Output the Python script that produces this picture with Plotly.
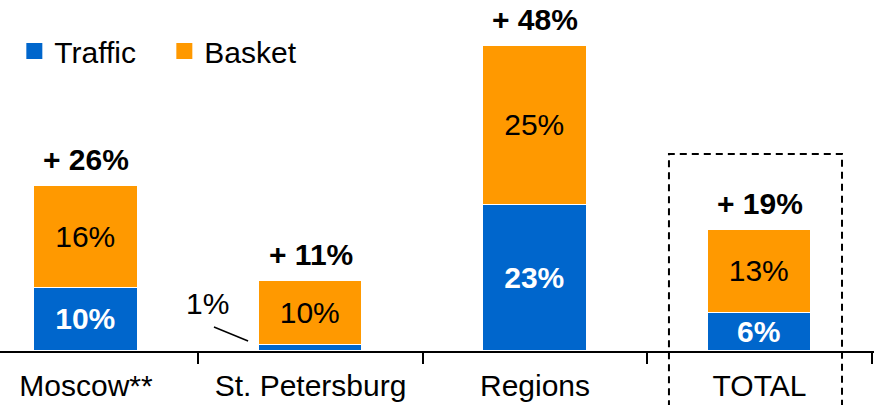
import plotly.graph_objects as go

# Growth decomposition by region (percentage points)
categories = ["Moscow**", "St. Petersburg", "Regions", "TOTAL"]
traffic = [10, 1, 23, 6]
basket = [16, 10, 25, 13]
totals = [26, 11, 48, 19]

BLUE = "#0066CC"
ORANGE = "#FF9900"
FONT = "Liberation Sans, Arial, sans-serif"
FS = 30

x = list(range(len(categories)))

# segment labels; the thin St. Petersburg traffic slice gets an outside callout
traffic_txt = [f"{v}%" if v >= 3 else "" for v in traffic]
basket_txt = [f"{v}%" for v in basket]

fig = go.Figure()
fig.add_trace(go.Bar(
    x=x, y=traffic, name="Traffic", legendgroup="traffic", showlegend=False,
    marker=dict(color=BLUE, line=dict(color="white", width=1.5)),
    width=0.46, text=traffic_txt, textposition="inside", insidetextanchor="middle",
    textfont=dict(family=FONT, size=FS, color="white", weight="bold"),
    hoverinfo="skip",
))
fig.add_trace(go.Bar(
    x=x, y=basket, name="Basket", legendgroup="basket", showlegend=False,
    marker=dict(color=ORANGE, line=dict(color="white", width=1.5)),
    width=0.46, text=basket_txt, textposition="inside", insidetextanchor="middle",
    textfont=dict(family=FONT, size=FS, color="black"),
    hoverinfo="skip",
))

# legend entries with larger square swatches
for name, color, grp in [("Traffic", BLUE, "traffic"), ("Basket", ORANGE, "basket")]:
    fig.add_trace(go.Scatter(
        x=[None], y=[None], mode="markers", name=name, legendgroup=grp,
        marker=dict(symbol="square", size=16, color=color), hoverinfo="skip",
    ))

# total growth above each stack
for i, t in enumerate(totals):
    fig.add_annotation(
        x=i, y=t, text=f"<b>+ {t}%</b>", showarrow=False, yanchor="bottom", yshift=8,
        font=dict(family=FONT, size=FS, color="black"),
    )

# callout for the small St. Petersburg traffic share
sp = categories.index("St. Petersburg")
fig.add_annotation(
    x=sp - 0.461, y=7.56, text=f"{traffic[sp]}%", showarrow=False,
    font=dict(family=FONT, size=FS, color="black"),
)
fig.add_shape(type="line", xref="x", yref="y", x0=sp - 0.43, y0=3.78, x1=sp - 0.278, y1=1.57,
              line=dict(color="black", width=1.5))

# dashed frame highlighting the total column
fig.add_shape(
    type="path", xref="paper", yref="paper",
    path="M 0.7654,-0.16 L 0.7654,0.5613 L 0.9634,0.5613 L 0.9634,-0.16",
    line=dict(color="black", width=2, dash="7px,5px"),
)

fig.update_layout(
    barmode="stack",
    width=874, height=405,
    margin=dict(l=0, r=0, t=0, b=54),
    paper_bgcolor="white", plot_bgcolor="white",
    bargap=0,
    uniformtext=dict(minsize=FS, mode="show"),
    font=dict(family=FONT, size=FS, color="black"),
    legend=dict(
        orientation="h", x=0.0164, y=0.855, xanchor="left", yanchor="middle",
        font=dict(family=FONT, size=FS, color="black"),
        bgcolor="rgba(0,0,0,0)", traceorder="normal",
        entrywidth=105, entrywidthmode="pixels",
    ),
    showlegend=True,
)
fig.update_xaxes(
    range=[-0.3831, 3.510], tickvals=x, ticktext=categories,
    ticks="outside", ticklen=7, tickcolor="rgba(0,0,0,0)",
    showline=True, linecolor="black", linewidth=1.5, showgrid=False, zeroline=False,
    tickfont=dict(family=FONT, size=FS, color="black"),
    minor=dict(tickvals=[i + 0.5 for i in x], ticks="outside", ticklen=11,
               tickcolor="black", tickwidth=1.5, showgrid=False),
    fixedrange=True,
)
fig.update_yaxes(range=[0, 55.28], visible=False, fixedrange=True)

fig.write_html("out.html", config={"displayModeBar": False})
